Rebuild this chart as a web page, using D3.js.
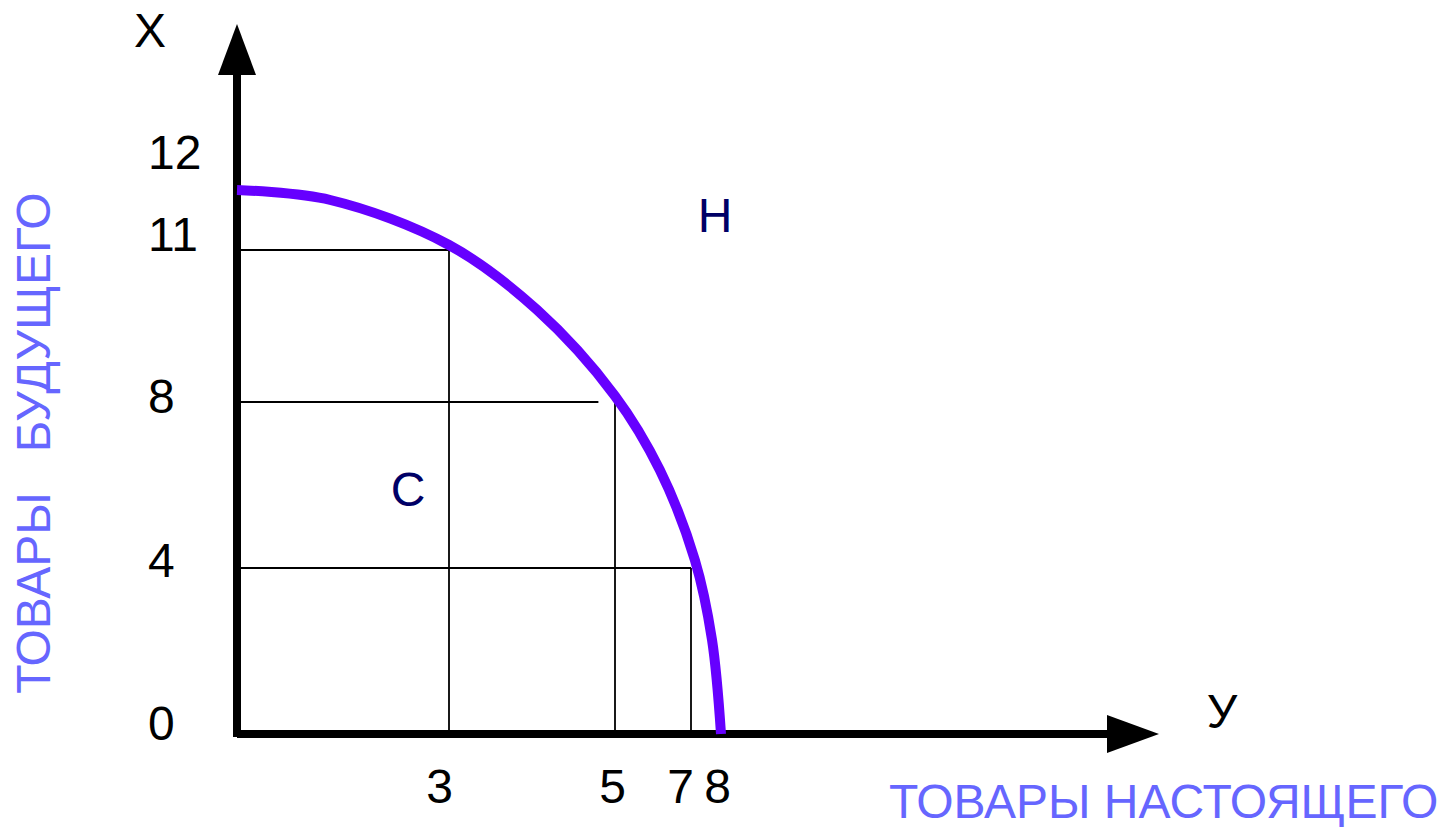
<!DOCTYPE html>
<html>
<head>
<meta charset="utf-8">
<script src="https://cdn.jsdelivr.net/npm/d3@7"></script>
<style>
    body { margin: 0; background: #fff; }
    svg text { font-family: "Liberation Sans", Arial, sans-serif; }
</style>
</head>
<body>
<div id="chart"></div>
<script>
// values
const xTicks = [3, 5, 7, 8];
const yTicks = [0, 4, 8, 11, 12];
// frontier curve (present goods -> future goods)
const curveX = [0, 1.32, 3, 4.06, 5, 6.18, 7.13, 7.7, 8];
const curveY = [11.6, 11.5, 11.05, 9.82, 8.12, 6.36, 4.19, 2.27, 0];
// guide lines: [level, from, to]
const hGuides = [[11, 0, 3], [8, 0, 4.8], [4, 0, 7]];
const vGuides = [[3, 0, 11], [5, 0, 8], [7, 0, 4]];
const xTitle = "ТОВАРЫ НАСТОЯЩЕГО";
const yTitle = "ТОВАРЫ   БУДУЩЕГО";

var width = 1441, height = 827;

var svg = d3.select("#chart").append("svg")
    .attr("width", width)
    .attr("height", height);

// the axes in the picture are not evenly spaced, so piecewise scales
var x = d3.scaleLinear().domain([0].concat(xTicks)).range([237, 449, 615, 691, 721]);
var y = d3.scaleLinear().domain(yTicks).range([734, 568, 402, 250, 150]);

// thin guide lines
svg.selectAll(".hguide").data(hGuides).enter().append("line")
    .attr("class", "hguide")
    .attr("x1", d => x(d[1]))
    .attr("x2", d => x(d[2]))
    .attr("y1", d => y(d[0]))
    .attr("y2", d => y(d[0]))
    .style("stroke", "#000")
    .style("stroke-width", "1.8px");

svg.selectAll(".vguide").data(vGuides).enter().append("line")
    .attr("class", "vguide")
    .attr("x1", d => x(d[0]))
    .attr("x2", d => x(d[0]))
    .attr("y1", d => y(d[1]))
    .attr("y2", d => y(d[2]))
    .style("stroke", "#000")
    .style("stroke-width", "1.8px");

// axis lines with arrows
svg.append("line")
    .attr("x1", x(0)).attr("x2", x(0))
    .attr("y1", y(0) + 3).attr("y2", 74)
    .style("stroke", "#000")
    .style("stroke-width", "8px");

svg.append("polygon")
    .attr("points", `${x(0)},24 ${x(0) - 19},75 ${x(0) + 19},75`)
    .style("fill", "#000");

svg.append("line")
    .attr("x1", x(0)).attr("x2", 1108)
    .attr("y1", y(0)).attr("y2", y(0))
    .style("stroke", "#000")
    .style("stroke-width", "8px");

svg.append("polygon")
    .attr("points", `1107,${y(0) - 19} 1107,${y(0) + 19} 1159,${y(0)}`)
    .style("fill", "#000");

// tick labels (hand placed in the original, so small shifts)
var yShift = {12: 3, 11: -15, 8: -5, 4: -7, 0: -10};
var xShift = {3: -10, 5: -3, 7: -11, 8: -4};

var yAxis = svg.append("g")
    .attr("transform", `translate(${x(0)},0)`)
    .call(d3.axisLeft(y).tickValues(yTicks).tickSize(0).tickFormat(d3.format("d")));
yAxis.select(".domain").remove();
yAxis.selectAll("text")
    .attr("text-anchor", "start")
    .attr("x", -89)
    .attr("y", d => yShift[d])
    .style("font-size", "48px")
    .style("fill", "#000");

var xAxis = svg.append("g")
    .attr("transform", `translate(0,${y(0)})`)
    .call(d3.axisBottom(x).tickValues(xTicks).tickSize(0).tickPadding(35).tickFormat(d3.format("d")));
xAxis.select(".domain").remove();
xAxis.selectAll("text")
    .attr("x", d => xShift[d])
    .style("font-size", "48px")
    .style("fill", "#000");

// frontier curve
var line = d3.line()
    .x(d => x(d[0]))
    .y(d => y(d[1]))
    .curve(d3.curveCatmullRom.alpha(0.5));

svg.append("path")
    .datum(curveX.map((v, i) => [v, curveY[i]]))
    .attr("d", line)
    .style("fill", "none")
    .style("stroke", "#6600ff")
    .style("stroke-width", "10px");

// axis letters
svg.append("text")
    .attr("x", 150).attr("y", 47)
    .attr("text-anchor", "middle")
    .text("X")
    .style("font-size", "48px")
    .style("fill", "#000");

svg.append("text")
    .attr("x", 1222).attr("y", 728)
    .attr("text-anchor", "middle")
    .text("У")
    .style("font-size", "48px")
    .style("fill", "#000");

// region letters
svg.append("text")
    .attr("x", 715).attr("y", 232)
    .attr("text-anchor", "middle")
    .text("Н")
    .style("font-size", "48px")
    .style("fill", "#000066");

svg.append("text")
    .attr("x", 408).attr("y", 506)
    .attr("text-anchor", "middle")
    .text("С")
    .style("font-size", "48px")
    .style("fill", "#000066");

// axis titles
svg.append("text")
    .attr("transform", "translate(50,443) rotate(-90)")
    .attr("text-anchor", "middle")
    .text(yTitle)
    .style("white-space", "pre")
    .style("font-size", "48px")
    .style("fill", "#6666ff");

svg.append("text")
    .attr("x", 889).attr("y", 818)
    .text(xTitle)
    .style("font-size", "48px")
    .style("fill", "#6666ff");
</script>
</body>
</html>
